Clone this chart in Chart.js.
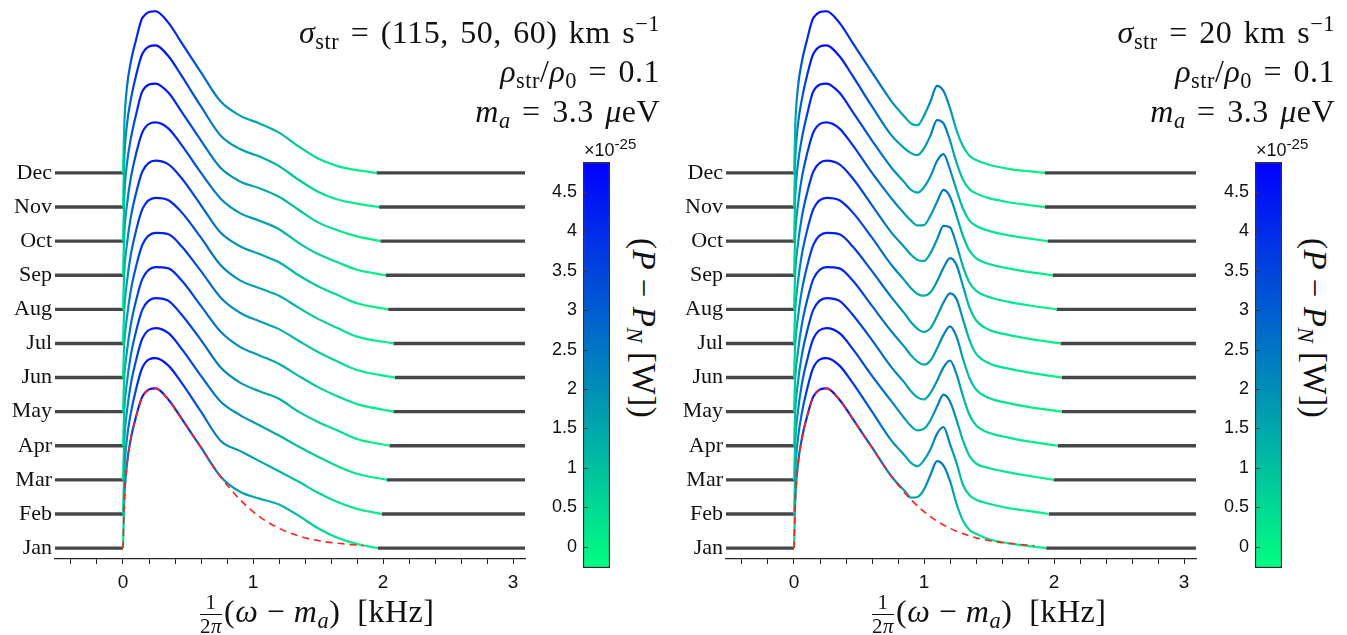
<!DOCTYPE html>
<html>
<head>
<meta charset="utf-8">
<script src="https://cdn.jsdelivr.net/npm/chart.js@4.4.1/dist/chart.umd.min.js"></script>
<style>
  body { margin: 0; background: #fff; width: 1347px; height: 635px; position: relative; overflow: hidden; font-family: "Liberation Serif", serif; color: #111; }
  canvas { position: absolute; top: 0; }
  .note { position: absolute; font-size: 32px; line-height: 1; white-space: nowrap; text-align: right; letter-spacing: 0.5px; word-spacing: 3px; }
  .note sub, .xt sub, .rot sub { font-size: 70%; vertical-align: -0.25em; line-height: 0; }
  .note sup { font-size: 70%; vertical-align: 0.55em; line-height: 0; }
  .xt { position: absolute; font-size: 32px; line-height: 1; white-space: nowrap; letter-spacing: 0.5px; }
  .frac { display: inline-flex; flex-direction: column; vertical-align: middle; font-size: 21px; text-align: center; margin-right: 2px; line-height: 1; }
  .frac .num { border-bottom: 1.3px solid #111; padding: 0 2px 1px; }
  .frac .den { padding-top: 1px; }
  .rot { position: absolute; font-size: 33px; line-height: 1; white-space: nowrap; letter-spacing: 0.5px; transform: translate(-50%, -50%) rotate(90deg); }
  .expo { position: absolute; font: 18px "Liberation Sans", sans-serif; white-space: nowrap; }
  .expo sup { font-size: 15px; vertical-align: 7px; line-height: 0; }
</style>
</head>
<body>
<canvas id="mainL" width="540" height="635" style="left:0px"></canvas>
<canvas id="barL" width="80" height="600" style="left:540px"></canvas>
<canvas id="mainR" width="540" height="635" style="left:671px"></canvas>
<canvas id="barR" width="80" height="600" style="left:1212px"></canvas>

<div class="note" style="right:687px;top:16px"><i>σ</i><sub>str</sub> = (115, 50, 60) km s<sup>−1</sup></div>
<div class="note" style="right:687px;top:55px"><i>ρ</i><sub>str</sub>/<i>ρ</i><sub>0</sub> = 0.1</div>
<div class="note" style="right:687px;top:95px"><i>m<sub>a</sub></i> = 3.3 <i>μ</i>eV</div>

<div class="note" style="right:12px;top:16px"><i>σ</i><sub>str</sub> = 20 km s<sup>−1</sup></div>
<div class="note" style="right:12px;top:55px"><i>ρ</i><sub>str</sub>/<i>ρ</i><sub>0</sub> = 0.1</div>
<div class="note" style="right:12px;top:95px"><i>m<sub>a</sub></i> = 3.3 <i>μ</i>eV</div>

<div class="xt" style="left:200px;top:592px"><span class="frac"><span class="num">1</span><span class="den">2<i>π</i></span></span>(<i>ω</i> − <i>m<sub>a</sub></i>) &nbsp;[kHz]</div>
<div class="xt" style="left:872px;top:592px"><span class="frac"><span class="num">1</span><span class="den">2<i>π</i></span></span>(<i>ω</i> − <i>m<sub>a</sub></i>) &nbsp;[kHz]</div>

<div class="rot" style="left:643px;top:328px">(<i>P</i> − <i>P<sub>N</sub></i> [W])</div>
<div class="rot" style="left:1314px;top:328px">(<i>P</i> − <i>P<sub>N</sub></i> [W])</div>

<div class="expo" style="left:584px;top:140px">×10<sup>-25</sup></div>
<div class="expo" style="left:1256px;top:140px">×10<sup>-25</sup></div>

<script>
// month rows, bottom to top
const months = ['Jan', 'Feb', 'Mar', 'Apr', 'May', 'Jun', 'Jul', 'Aug', 'Sep', 'Oct', 'Nov', 'Dec'];

// frequency samples (kHz) for the signal part of each row
const gridL = [0, 0.01, 0.03, 0.06, 0.1, 0.15, 0.25, 0.35, 0.45, 0.6, 0.75, 0.9, 1.05, 1.2, 1.35, 1.5, 1.65, 1.8];
const gridR = [0, 0.01, 0.03, 0.06, 0.1, 0.15, 0.25, 0.35, 0.45, 0.6, 0.75, 0.85, 0.9, 0.95, 1.0, 1.05, 1.1, 1.15, 1.2, 1.25, 1.3, 1.35, 1.4, 1.5, 1.65, 1.8];

// P - P_N (x1e-25 W), left panel: sigma_str = (115,50,60)
const rowsL = [
  [0, 1.40, 2.45, 3.20, 3.85, 4.45, 4.68, 4.35, 3.80, 2.95, 2.10, 1.65, 1.45, 1.28, 0.95, 0.58, 0.30, 0.12], // Jan
  [0, 1.25, 2.20, 2.95, 3.65, 4.30, 4.57, 4.35, 3.85, 3.00, 2.15, 1.85, 1.55, 1.25, 0.95, 0.62, 0.35, 0.15], // Feb
  [0, 1.15, 2.00, 2.80, 3.50, 4.15, 4.45, 4.30, 3.85, 3.05, 2.30, 1.90, 1.60, 1.30, 0.98, 0.68, 0.40, 0.18], // Mar
  [0, 1.05, 1.85, 2.65, 3.35, 4.00, 4.33, 4.25, 3.85, 3.10, 2.30, 1.85, 1.60, 1.38, 1.00, 0.70, 0.45, 0.20], // Apr
  [0, 1.00, 1.75, 2.55, 3.25, 3.90, 4.24, 4.20, 3.85, 3.10, 2.35, 1.90, 1.65, 1.40, 1.05, 0.72, 0.45, 0.22], // May
  [0, 1.00, 1.75, 2.55, 3.25, 3.90, 4.24, 4.20, 3.85, 3.12, 2.35, 1.90, 1.65, 1.42, 1.08, 0.75, 0.47, 0.22], // Jun
  [0, 1.00, 1.80, 2.60, 3.30, 3.95, 4.27, 4.20, 3.85, 3.10, 2.30, 1.85, 1.62, 1.40, 1.05, 0.72, 0.45, 0.20], // Jul
  [0, 1.10, 1.90, 2.70, 3.40, 4.05, 4.36, 4.25, 3.85, 3.05, 2.25, 1.85, 1.62, 1.38, 1.00, 0.68, 0.42, 0.18], // Aug
  [0, 1.20, 2.05, 2.85, 3.55, 4.20, 4.48, 4.30, 3.82, 3.00, 2.25, 1.82, 1.60, 1.35, 0.95, 0.62, 0.38, 0.16], // Sep
  [0, 1.30, 2.25, 3.00, 3.70, 4.40, 4.62, 4.35, 3.80, 2.95, 2.15, 1.75, 1.55, 1.30, 0.92, 0.55, 0.32, 0.14], // Oct
  [0, 1.38, 2.40, 3.15, 3.85, 4.50, 4.74, 4.42, 3.85, 2.95, 2.10, 1.70, 1.48, 1.20, 0.80, 0.45, 0.22, 0.10], // Nov
  [0, 1.42, 2.50, 3.25, 3.90, 4.55, 4.74, 4.40, 3.82, 2.95, 2.10, 1.68, 1.45, 1.18, 0.78, 0.42, 0.20, 0.08]  // Dec
];
// where the signal drops back into the noise floor (kHz)
const cutL = [1.96, 1.99, 2.03, 2.05, 2.08, 2.09, 2.08, 2.04, 2.02, 1.98, 1.97, 1.95];

// right panel: sigma_str = 20
const rowsR = [
  [0, 1.40, 2.45, 3.20, 3.85, 4.45, 4.68, 4.35, 3.80, 2.95, 2.10, 1.68, 1.48, 1.50, 1.72, 2.15, 2.55, 2.42, 1.97, 1.30, 0.80, 0.53, 0.42, 0.26, 0.14, 0.06], // Jan
  [0, 1.25, 2.20, 2.95, 3.65, 4.30, 4.57, 4.35, 3.85, 3.00, 2.15, 1.72, 1.50, 1.40, 1.58, 1.90, 2.35, 2.55, 2.05, 1.50, 0.85, 0.55, 0.42, 0.30, 0.17, 0.09], // Feb
  [0, 1.15, 2.00, 2.80, 3.50, 4.15, 4.45, 4.30, 3.85, 3.05, 2.30, 1.80, 1.58, 1.45, 1.50, 1.75, 2.15, 2.50, 2.30, 1.76, 1.15, 0.70, 0.48, 0.35, 0.22, 0.12], // Mar
  [0, 1.05, 1.85, 2.65, 3.35, 4.00, 4.33, 4.25, 3.85, 3.10, 2.30, 1.85, 1.60, 1.42, 1.36, 1.55, 1.90, 2.30, 2.50, 2.10, 1.45, 0.90, 0.60, 0.38, 0.24, 0.13], // Apr
  [0, 1.00, 1.75, 2.55, 3.25, 3.90, 4.24, 4.20, 3.85, 3.10, 2.35, 1.90, 1.65, 1.47, 1.38, 1.50, 1.85, 2.25, 2.50, 2.20, 1.55, 0.98, 0.65, 0.40, 0.25, 0.14], // May
  [0, 1.00, 1.75, 2.55, 3.25, 3.90, 4.24, 4.20, 3.85, 3.12, 2.35, 1.88, 1.62, 1.43, 1.34, 1.45, 1.80, 2.20, 2.47, 2.30, 1.70, 1.10, 0.70, 0.42, 0.26, 0.15], // Jun
  [0, 1.00, 1.80, 2.60, 3.30, 3.95, 4.27, 4.20, 3.85, 3.10, 2.30, 1.85, 1.62, 1.45, 1.40, 1.50, 1.82, 2.22, 2.50, 2.30, 1.68, 1.05, 0.68, 0.40, 0.25, 0.14], // Jul
  [0, 1.10, 1.90, 2.70, 3.40, 4.05, 4.36, 4.25, 3.85, 3.05, 2.25, 1.82, 1.60, 1.45, 1.42, 1.65, 2.05, 2.45, 2.40, 1.90, 1.25, 0.78, 0.55, 0.36, 0.22, 0.12], // Aug
  [0, 1.20, 2.05, 2.85, 3.55, 4.20, 4.48, 4.30, 3.82, 3.00, 2.25, 1.80, 1.60, 1.46, 1.47, 1.75, 2.15, 2.50, 2.30, 1.75, 1.15, 0.72, 0.50, 0.33, 0.20, 0.10], // Sep
  [0, 1.30, 2.25, 3.00, 3.70, 4.40, 4.62, 4.35, 3.80, 2.95, 2.15, 1.72, 1.50, 1.42, 1.58, 1.90, 2.35, 2.55, 2.10, 1.50, 0.95, 0.60, 0.45, 0.30, 0.17, 0.08], // Oct
  [0, 1.38, 2.40, 3.15, 3.85, 4.50, 4.74, 4.42, 3.85, 2.95, 2.10, 1.72, 1.58, 1.52, 1.72, 2.10, 2.55, 2.45, 1.95, 1.30, 0.80, 0.52, 0.40, 0.26, 0.14, 0.06], // Nov
  [0, 1.42, 2.50, 3.25, 3.90, 4.55, 4.74, 4.40, 3.82, 2.95, 2.10, 1.65, 1.45, 1.40, 1.68, 2.10, 2.55, 2.40, 1.90, 1.25, 0.78, 0.50, 0.38, 0.24, 0.12, 0.05]  // Dec
];
const cutR = [1.94, 1.96, 2.00, 2.03, 2.06, 2.06, 2.05, 2.02, 1.99, 1.95, 1.93, 1.93];

// standard halo model for January (red dashed)
const shmX = [0, 0.01, 0.03, 0.06, 0.1, 0.15, 0.25, 0.35, 0.45, 0.6, 0.75, 0.9, 1.05, 1.2, 1.35, 1.5, 1.65, 1.85];
const shmJan = [0, 1.35, 2.40, 3.20, 3.85, 4.45, 4.68, 4.35, 3.80, 2.95, 2.10, 1.42, 0.92, 0.58, 0.36, 0.22, 0.14, 0.07];

// colorbar
const cbMin = -0.27, cbMax = 4.88;
const cbTicks = [0, 0.5, 1, 1.5, 2, 2.5, 3, 3.5, 4, 4.5];
const xTickLabels = ['0', '1', '2', '3'];

// axes
const xMin = -0.523, xMax = 3.092;
const yMin = -0.32, yMax = 16.07;

const sans = '"Liberation Sans", Arial, sans-serif';
const serif = '"Liberation Serif", "Times New Roman", serif';

Chart.defaults.animation = false;
Chart.defaults.responsive = false;

const rampFor = (chart, scale, lo, hi) => {
    const g = chart.ctx.createLinearGradient(0, scale.getPixelForValue(lo), 0, scale.getPixelForValue(hi));
    g.addColorStop(0, '#00ff80');
    g.addColorStop(1, '#0000ff');
    return g;
};

const buildPanel = (id, grid, rows, cuts) => {
    const sets = [{
        data: shmX.map((x, i) => ({ x, y: shmJan[i] })),
        borderColor: '#ff1f1f', borderWidth: 1.6, borderDash: [7, 5],
        pointRadius: 0, cubicInterpolationMode: 'monotone', order: 0
    }];

    rows.forEach((vals, m) => {
        const pts = grid.map((x, i) => ({ x, y: vals[i] + m }));
        pts.push({ x: cuts[m], y: m });
        sets.push({
            data: pts,
            borderColor: ctx => {
                const ch = ctx.chart;
                if (!ch.chartArea || !ch.scales.y) return '#0a80c0';
                return rampFor(ch, ch.scales.y, m + cbMin, m + cbMax);
            },
            borderWidth: 2.2, pointRadius: 0, cubicInterpolationMode: 'monotone', order: 1
        });
        // noise floor either side of the signal
        sets.push({ data: [{ x: xMin, y: m }, { x: 0, y: m }], borderColor: '#474747', borderWidth: 3.4, pointRadius: 0, order: 2 });
        sets.push({ data: [{ x: cuts[m], y: m }, { x: xMax, y: m }], borderColor: '#474747', borderWidth: 3.4, pointRadius: 0, order: 2 });
    });

    return new Chart(document.getElementById(id), {
        type: 'line',
        data: { datasets: sets },
        options: {
            layout: { padding: { top: 0, right: 15, bottom: 0, left: 0 } },
            plugins: { legend: { display: false }, tooltip: { enabled: false } },
            scales: {
                x: {
                    type: 'linear', min: xMin, max: xMax,
                    ticks: {
                        stepSize: 0.2, includeBounds: false, autoSkip: false, maxRotation: 0,
                        padding: 7, color: '#111', font: { family: sans, size: 19 },
                        callback: v => {
                            const r = Math.round(v);
                            return Math.abs(v - r) < 1e-6 ? (xTickLabels[r] || '') : '';
                        }
                    },
                    grid: { drawOnChartArea: false, tickLength: 5, color: '#262626' },
                    border: { color: '#262626', width: 1.2 },
                    afterFit: s => { s.height = 76; s.paddingLeft = 0; s.paddingRight = 0; }
                },
                y: {
                    type: 'linear', min: yMin, max: yMax,
                    afterBuildTicks: s => { s.ticks = months.map((_, i) => ({ value: i })); },
                    ticks: {
                        autoSkip: false, padding: 3, color: '#111', font: { family: serif, size: 22 },
                        callback: v => months[v]
                    },
                    grid: { display: false, drawTicks: false },
                    border: { display: false },
                    afterFit: s => { s.width = 55; s.paddingTop = 0; s.paddingBottom = 0; }
                }
            }
        }
    });
};

// small inward tick marks on the left edge of the colorbar
const cbTickMarks = {
    id: 'cbTickMarks',
    afterDatasetsDraw(chart) {
        const { ctx, chartArea, scales } = chart;
        ctx.save();
        ctx.strokeStyle = '#333';
        ctx.lineWidth = 1;
        cbTicks.forEach(v => {
            const y = Math.round(scales.y.getPixelForValue(v)) + 0.5;
            ctx.beginPath();
            ctx.moveTo(chartArea.left, y);
            ctx.lineTo(chartArea.left + 5, y);
            ctx.stroke();
        });
        ctx.restore();
    }
};

const buildColorbar = (id) => new Chart(document.getElementById(id), {
    type: 'bar',
    data: {
        labels: [''],
        datasets: [{
            data: [[cbMin, cbMax]],
            backgroundColor: ctx => {
                const ch = ctx.chart;
                if (!ch.chartArea || !ch.scales.y) return '#0a80c0';
                return rampFor(ch, ch.scales.y, cbMin, cbMax);
            },
            borderColor: '#2e2e2e', borderWidth: 1.5, borderSkipped: false,
            barPercentage: 1, categoryPercentage: 1
        }]
    },
    options: {
        layout: { padding: { top: 162, right: 10, bottom: 32, left: 0 } },
        plugins: { legend: { display: false }, tooltip: { enabled: false } },
        scales: {
            x: { display: false },
            y: {
                min: cbMin, max: cbMax,
                afterBuildTicks: s => { s.ticks = cbTicks.map(v => ({ value: v })); },
                ticks: { padding: 6, color: '#111', font: { family: sans, size: 18 }, callback: v => String(v) },
                grid: { display: false, drawTicks: false },
                border: { display: false },
                afterFit: s => { s.width = 43; s.paddingTop = 0; s.paddingBottom = 0; }
            }
        }
    },
    plugins: [cbTickMarks]
});

buildPanel('mainL', gridL, rowsL, cutL);
buildPanel('mainR', gridR, rowsR, cutR);
buildColorbar('barL');
buildColorbar('barR');
</script>
</body>
</html>
